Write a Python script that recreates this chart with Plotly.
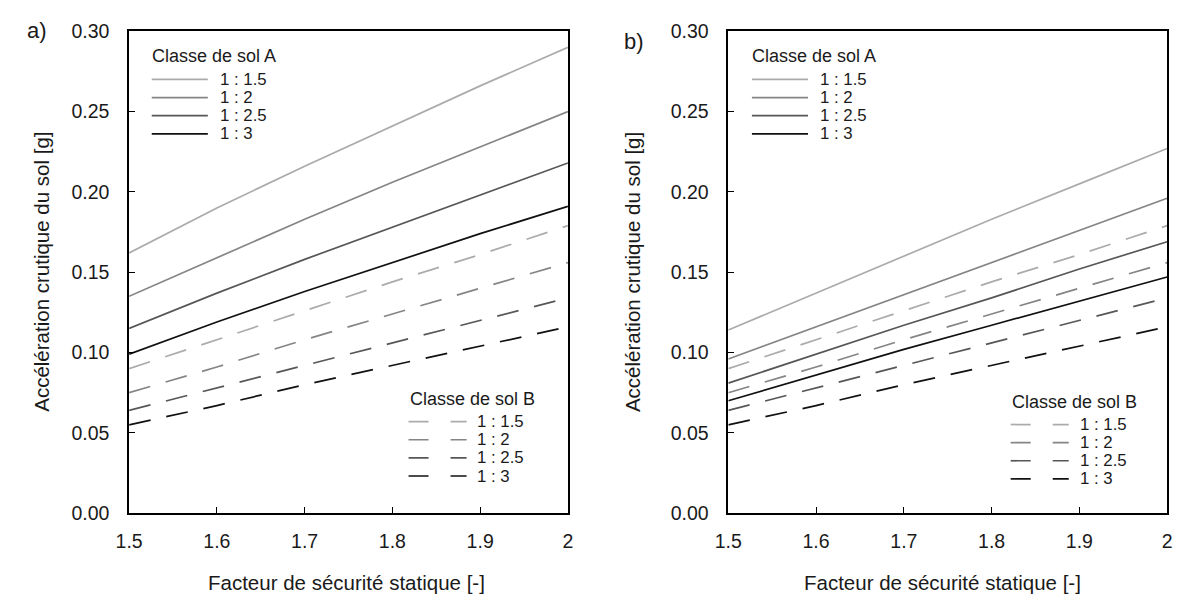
import plotly.graph_objects as go

# Static safety factor (x) and critical ground acceleration in g (y)
safety_factor = [1.5, 1.6, 1.7, 1.8, 1.9, 2.0]
slopes = ["1 : 1.5", "1 : 2", "1 : 2.5", "1 : 3"]

# Panel a) – soil class A (solid)
a_class_A_15 = [0.162, 0.190, 0.216, 0.241, 0.266, 0.290]
a_class_A_20 = [0.135, 0.159, 0.183, 0.206, 0.228, 0.250]
a_class_A_25 = [0.115, 0.137, 0.158, 0.178, 0.198, 0.218]
a_class_A_30 = [0.099, 0.119, 0.138, 0.156, 0.174, 0.191]

# Panel b) – soil class A (solid)
b_class_A_15 = [0.114, 0.137, 0.160, 0.183, 0.205, 0.227]
b_class_A_20 = [0.096, 0.116, 0.136, 0.156, 0.176, 0.196]
b_class_A_25 = [0.081, 0.099, 0.117, 0.134, 0.152, 0.169]
b_class_A_30 = [0.070, 0.086, 0.102, 0.117, 0.132, 0.147]

# Soil class B (dashed), same in both panels
class_B_15 = [0.090, 0.108, 0.126, 0.144, 0.161, 0.179]
class_B_20 = [0.075, 0.091, 0.108, 0.124, 0.140, 0.156]
class_B_25 = [0.064, 0.078, 0.092, 0.106, 0.120, 0.134]
class_B_30 = [0.055, 0.067, 0.080, 0.092, 0.104, 0.116]

x_tick_vals = [1.5, 1.6, 1.7, 1.8, 1.9, 2.0]
x_tick_text = ["1.5", "1.6", "1.7", "1.8", "1.9", "2"]
y_tick_vals = [0.0, 0.05, 0.10, 0.15, 0.20, 0.25, 0.30]

greys = ["#ababab", "#858585", "#575757", "#111111"]

W, H = 1180, 610
FONT = "Liberation Sans, Arial, sans-serif"


def px(x):
    return x / W


def py(y):
    return 1 - y / H


fig = go.Figure()

panels = [
    ("x", "y", [a_class_A_15, a_class_A_20, a_class_A_25, a_class_A_30]),
    ("x2", "y2", [b_class_A_15, b_class_A_20, b_class_A_25, b_class_A_30]),
]
class_B = [class_B_15, class_B_20, class_B_25, class_B_30]

for xa, ya, class_A in panels:
    for name, vals, col in zip(slopes, class_A, greys):
        fig.add_trace(go.Scatter(
            x=safety_factor, y=vals, mode="lines", name=name,
            line=dict(color=col, width=1.7), xaxis=xa, yaxis=ya,
            showlegend=False, hoverinfo="skip"))
    for name, vals, col in zip(slopes, class_B, greys):
        fig.add_trace(go.Scatter(
            x=safety_factor, y=vals, mode="lines", name=name,
            line=dict(color=col, width=1.7, dash="22px,16px"),
            xaxis=xa, yaxis=ya, showlegend=False, hoverinfo="skip"))

axis_common = dict(
    showline=True, linecolor="black", linewidth=1.6, mirror=True,
    ticks="inside", ticklen=6, tickwidth=1.3, tickcolor="black",
    showgrid=False, zeroline=False,
    tickfont=dict(family=FONT, size=19.5, color="#1a1a1a"),
)

x_dom_a = [px(117), px(563)]
x_dom_b = [px(726), px(1172)]
y_dom = [py(521), py(21)]

xaxis_kw = dict(axis_common, range=[1.5, 2.0], tickvals=x_tick_vals,
                ticktext=x_tick_text, ticklabelstandoff=10)
yaxis_kw = dict(axis_common, range=[0, 0.30], tickvals=y_tick_vals,
                tickformat=".2f", ticklabelstandoff=14)

fig.update_layout(
    width=W, height=H,
    margin=dict(l=0, r=0, t=0, b=0),
    paper_bgcolor="white", plot_bgcolor="white",
    font=dict(family=FONT, color="#1a1a1a"),
    xaxis=dict(xaxis_kw, domain=x_dom_a, anchor="y"),
    yaxis=dict(yaxis_kw, domain=y_dom, anchor="x"),
    xaxis2=dict(xaxis_kw, domain=x_dom_b, anchor="y2"),
    yaxis2=dict(yaxis_kw, domain=y_dom, anchor="x2"),
    showlegend=False,
)

annotations = []
shapes = []


def text(x, y, s, size=18, xanchor="left", angle=0):
    annotations.append(dict(
        x=px(x), y=py(y), xref="paper", yref="paper", text=s,
        showarrow=False, xanchor=xanchor, yanchor="middle", textangle=angle,
        borderpad=0,
        font=dict(family=FONT, size=size, color="#1a1a1a")))


def sample(x0, x1, y, color, dash="solid"):
    shapes.append(dict(
        type="line", xref="paper", yref="paper",
        x0=px(x0), x1=px(x1), y0=py(y), y1=py(y),
        line=dict(color=color, width=1.7, dash=dash)))


# Panel labels, axis titles
for dx, lab, ly in [(0, "a)", 20), (607, "b)", 32)]:
    text(23 + dx, ly, lab, size=22, xanchor="center")
for xc in (338, 944):
    text(xc, 593, "Facteur de sécurité statique [-]", size=20.5,
         xanchor="center")
for xc in (28, 628):
    text(xc, 271, "Accélération crutique du sol [g]", size=20.5,
         xanchor="center", angle=-90)

# Legend blocks (soil class A top-left, soil class B bottom-right)
row_gap = 18.8
leg_font = 16.8
for dx in (0, 610):
    text(139 + dx, 47, "Classe de sol A", size=18)
    for i, (name, col) in enumerate(zip(slopes, greys)):
        yy = 71 + i * row_gap
        sample(140 + dx, 197 + dx, yy, col)
        text(208 + dx, yy, name, size=leg_font)

for dx, dy in [(0, 0), (612, 3)]:
    text(401 + dx, 403 + dy, "Classe de sol B", size=18)
    for i, (name, col) in enumerate(zip(slopes, greys)):
        yy = 426 + dy + i * row_gap
        sample(401 + dx, 460 + dx, yy, col, dash="20px,22px")
        text(470 + dx, yy, name, size=leg_font)

fig.update_layout(annotations=annotations, shapes=shapes)

fig.write_html("out.html")
